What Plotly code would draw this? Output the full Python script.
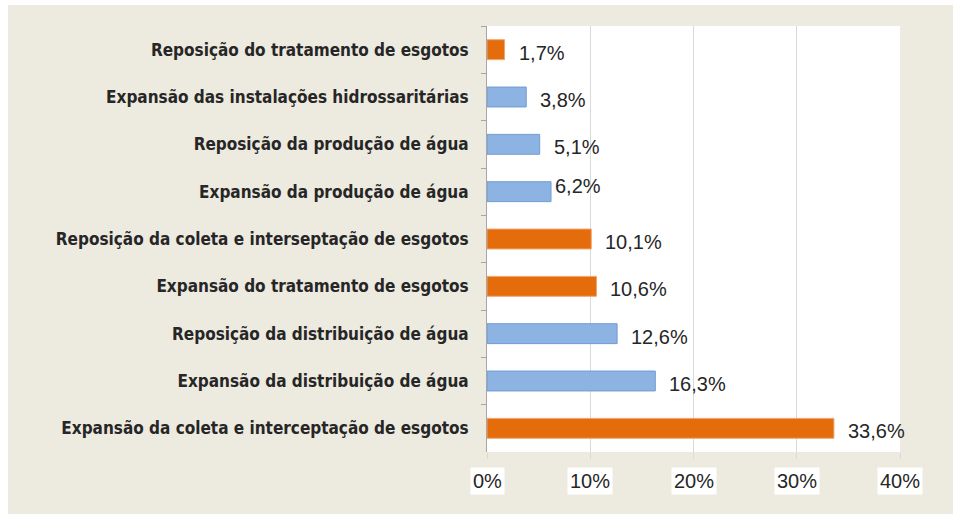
import plotly.graph_objects as go

# Investment share by component (top to bottom)
categories = [
    "Reposição do tratamento de esgotos",
    "Expansão das instalações hidrossaritárias",
    "Reposição da produção de água",
    "Expansão da produção de água",
    "Reposição da coleta e interseptação de esgotos",
    "Expansão do tratamento de esgotos",
    "Reposição da distribuição de água",
    "Expansão da distribuição de água",
    "Expansão da coleta e interceptação de esgotos",
]
shares = [1.7, 3.8, 5.1, 6.2, 10.1, 10.6, 12.6, 16.3, 33.6]
x_ticks = [0, 10, 20, 30, 40]

ORANGE = "#E46C0A"
ORANGE_EDGE = "#F0A46E"
BLUE = "#8DB3E2"
BLUE_EDGE = "#6F9BD4"
BEIGE = "#EDEAE0"

# sewage items in orange, water items in blue
is_sewage = ["esgoto" in c for c in categories]
fill = [ORANGE if s else BLUE for s in is_sewage]
edge = [ORANGE_EDGE if s else BLUE_EDGE for s in is_sewage]

fig = go.Figure(
    go.Bar(
        x=shares,
        y=categories,
        orientation="h",
        marker=dict(color=fill, line=dict(color=edge, width=1)),
        width=0.42,
        hoverinfo="skip",
    )
)

W, H = 953, 517
L, R, T, B = 487, 53, 26, 65
pw, ph = W - L - R, H - T - B

# beige panel behind the chart, leaving a thin white border
fig.add_shape(
    type="rect", xref="paper", yref="paper", layer="below",
    x0=(8 - L) / pw, x1=(W - L) / pw + 0.01,
    y0=(H - B - 514) / ph, y1=(H - B - 5) / ph,
    fillcolor=BEIGE, line=dict(width=0),
)
# white plotting area
fig.add_shape(
    type="rect", xref="paper", yref="paper", layer="below",
    x0=0, x1=1, y0=0, y1=1,
    fillcolor="white", line=dict(width=0),
)

value_font = dict(family="Liberation Sans, Arial, sans-serif", size=20, color="#262626")

# value labels to the right of each bar
label_shift = {"Expansão da produção de água": (-10, 9)}
for cat, v in zip(categories, shares):
    dx, dy = label_shift.get(cat, (0, 0))
    fig.add_annotation(
        x=v, y=cat, xref="x", yref="y",
        text=f"{v:.1f}%".replace(".", ","),
        showarrow=False, xanchor="left", yanchor="middle",
        xshift=12 + dx, yshift=-3 + dy, font=value_font,
    )

# x tick labels on white boxes
for t in x_ticks:
    fig.add_annotation(
        x=t, y=0, xref="x", yref="paper",
        text=f"{t}%", showarrow=False, xanchor="center", yanchor="top",
        yshift=-15, bgcolor="white", borderpad=2, font=value_font,
    )

fig.update_layout(
    width=W, height=H,
    margin=dict(l=L, r=R, t=T, b=B),
    paper_bgcolor="white",
    plot_bgcolor="rgba(0,0,0,0)",
    showlegend=False,
    separators=",.",
    bargap=0.58,
)
fig.update_xaxes(
    range=[0, 40], tickvals=x_ticks, showticklabels=False,
    showgrid=True, gridcolor="#D9D9D9", gridwidth=1,
    ticks="outside", ticklen=6, tickcolor="#D9D9D9",
    zeroline=False, showline=False, fixedrange=True,
)
fig.update_yaxes(
    autorange="reversed", type="category",
    showline=True, linecolor="#A6A6A6", linewidth=1,
    ticks="outside", tickson="boundaries", ticklen=5, tickcolor="#A6A6A6",
    ticklabelstandoff=14,
    tickfont=dict(family="DejaVu Sans Condensed, Arial Narrow, sans-serif",
                  size=17, weight="bold", color="#262626"),
    showgrid=False, zeroline=False, fixedrange=True,
)

fig.write_html("out.html")
